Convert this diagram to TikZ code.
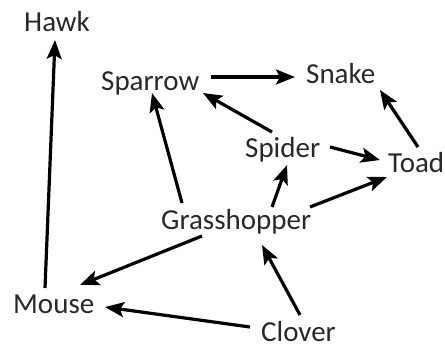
\documentclass[tikz,border=0pt]{standalone}
\usepackage{fontspec}
\setmainfont{Carlito}
\usetikzlibrary{arrows.meta,calc}
\definecolor{labelgray}{RGB}{40,40,40}
\tikzset{
  animal/.style={anchor=base west, inner sep=0pt, text=labelgray,
                 font=\fontsize{29}{32}\selectfont},
  eats/.style={line width=3.2pt, draw=black,
               -{Stealth[length=19pt,width=15pt,inset=4pt]}}
}
\begin{document}
\begin{tikzpicture}[x=1pt,y=-1pt]
\useasboundingbox (0,0) rectangle (445,346);

% organisms (positions given at the baseline, left edge)
\node[animal] (hawk)   at (24,31)   {Hawk};
\node[animal] (sparrow) at (101,90) {Sparrow};
\node[animal] (snake)  at (306,83)  {Snake};
\node[animal] (spider) at (245,157) {Spider};
\node[animal] (toad)   at (388,172) {Toad};
\node[animal] (grass)  at (161,229) {Grasshopper};
\node[animal] (mouse)  at (13,313)  {Mouse};
\node[animal] (clover) at (261,341) {Clover};

% energy flow: arrow points from food to eater
\draw[eats] ($(mouse.base west)+(32,-25)$)   -- ($(hawk.base west)+(31,9)$);
\draw[eats] ($(grass.base west)+(21,-26)$)   -- ($(sparrow.base west)+(51,3)$);
\draw[eats] ($(sparrow.base west)+(110,-13)$) -- ($(snake.base west)+(-11,-6)$);
\draw[eats] ($(spider.base west)+(27,-25)$)  -- ($(sparrow.base west)+(102,3)$);
\draw[eats] ($(spider.base west)+(85,-10)$)  -- ($(toad.base west)+(-8,-12)$);
\draw[eats] ($(toad.base west)+(30,-25)$)    -- ($(snake.base west)+(74,7)$);
\draw[eats] ($(grass.base west)+(111,-22)$)  -- ($(spider.base west)+(42,8)$);
\draw[eats] ($(grass.base west)+(149,-22)$)  -- ($(toad.base west)+(-1,5)$);
\draw[eats] ($(grass.base west)+(41,7)$)     -- ($(mouse.base west)+(67,-28)$);
\draw[eats] ($(clover.base west)+(39,-26)$)  -- ($(grass.base west)+(101,16)$);
\draw[eats] ($(clover.base west)+(-11,-14)$) -- ($(mouse.base west)+(92,-6)$);
\end{tikzpicture}
\end{document}
